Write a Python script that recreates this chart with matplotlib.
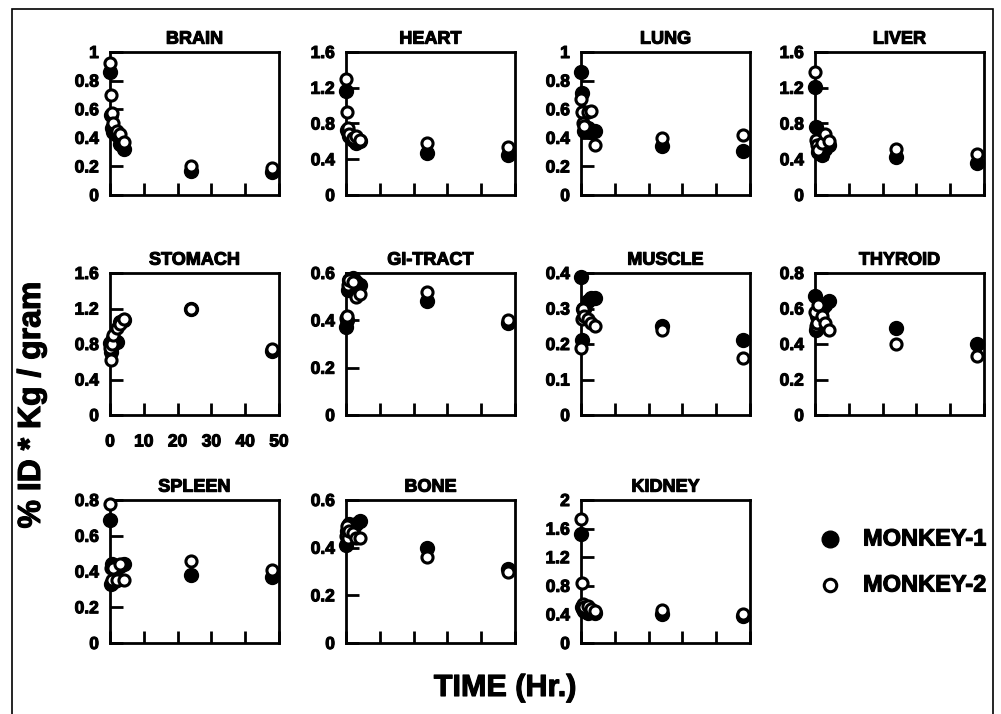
import matplotlib
matplotlib.use("Agg")

import matplotlib.pyplot as plt
import matplotlib.patheffects as pe
import numpy as np
from matplotlib.patches import Rectangle
from matplotlib.ticker import FuncFormatter

plt.rcParams['font.family'] = ['Liberation Sans', 'DejaVu Sans']
plt.rcParams['font.weight'] = 'bold'

# Tiempos de muestreo (h)
tiempo = [0.1, 0.25, 0.5, 1, 2, 3, 4, 24, 48]

organos = ["BRAIN", "HEART", "LUNG", "LIVER",
           "STOMACH", "GI-TRACT", "MUSCLE", "THYROID",
           "SPLEEN", "BONE", "KIDNEY"]

mono1 = {
    "BRAIN":    [0.86, 0.56, 0.47, 0.44, 0.42, 0.36, 0.32, 0.17, 0.16],
    "HEART":    [1.16, 0.73, 0.70, 0.66, 0.62, 0.58, 0.60, 0.47, 0.45],
    "LUNG":     [0.86, 0.71, 0.58, 0.45, 0.47, 0.44, 0.45, 0.34, 0.31],
    "LIVER":    [1.21, 0.76, 0.60, 0.48, 0.45, 0.52, 0.56, 0.43, 0.36],
    "STOMACH":  [0.81, 0.71, 0.78, 0.87, 0.82, 1.05, 1.07, 1.19, 0.72],
    "GI-TRACT": [0.37, 0.40, 0.53, 0.57, 0.58, 0.56, 0.55, 0.48, 0.39],
    "MUSCLE":   [0.39, 0.21, 0.30, 0.30, 0.32, 0.33, 0.33, 0.25, 0.21],
    "THYROID":  [0.67, 0.48, 0.56, 0.54, 0.60, 0.62, 0.64, 0.49, 0.40],
    "SPLEEN":   [0.69, 0.33, 0.44, 0.34, 0.35, 0.43, 0.44, 0.38, 0.37],
    "BONE":     [0.41, 0.47, 0.49, 0.50, 0.48, 0.50, 0.51, 0.40, 0.31],
    "KIDNEY":   [1.53, 0.50, 0.48, 0.45, 0.42, 0.44, 0.42, 0.40, 0.38],
}

mono2 = {
    "BRAIN":    [0.92, 0.70, 0.57, 0.50, 0.45, 0.43, 0.37, 0.20, 0.19],
    "HEART":    [1.30, 0.93, 0.75, 0.68, 0.64, 0.66, 0.62, 0.58, 0.54],
    "LUNG":     [0.67, 0.58, 0.50, 0.48, 0.58, 0.59, 0.35, 0.40, 0.42],
    "LIVER":    [1.38, 0.62, 0.56, 0.50, 0.58, 0.68, 0.60, 0.51, 0.46],
    "STOMACH":  [0.75, 0.62, 0.80, 0.90, 0.98, 1.02, 1.08, 1.19, 0.74],
    "GI-TRACT": [0.41, 0.42, 0.55, 0.57, 0.56, 0.50, 0.51, 0.52, 0.40],
    "MUSCLE":   [0.19, 0.27, 0.30, 0.28, 0.27, 0.26, 0.25, 0.24, 0.16],
    "THYROID":  [0.58, 0.50, 0.52, 0.62, 0.56, 0.52, 0.48, 0.40, 0.33],
    "SPLEEN":   [0.78, 0.42, 0.35, 0.42, 0.35, 0.44, 0.35, 0.46, 0.41],
    "BONE":     [0.45, 0.49, 0.44, 0.47, 0.46, 0.44, 0.44, 0.36, 0.30],
    "KIDNEY":   [1.74, 0.84, 0.55, 0.50, 0.52, 0.48, 0.45, 0.46, 0.40],
}

# limite y paso del eje y
ejes_y = {
    "BRAIN": (1, 0.2), "HEART": (1.6, 0.4), "LUNG": (1, 0.2), "LIVER": (1.6, 0.4),
    "STOMACH": (1.6, 0.4), "GI-TRACT": (0.6, 0.2), "MUSCLE": (0.4, 0.1),
    "THYROID": (0.8, 0.2), "SPLEEN": (0.8, 0.2), "BONE": (0.6, 0.2),
    "KIDNEY": (2, 0.4),
}

W, H = 1001, 714
fig = plt.figure(figsize=(W / 100, H / 100), dpi=100)
grueso = [pe.withStroke(linewidth=0.8, foreground="black")]

# marco
fig.patches.append(Rectangle((12 / W, -0.05), 981 / W, 1.05 - 9 / H,
                             transform=fig.transFigure, fill=False,
                             edgecolor="black", linewidth=1.2))

cols_px = [110, 346, 581, 815]
rows_px = [(52, 195), (273, 415), (500, 643)]
ancho = 169

for i, org in enumerate(organos):
    f, c = divmod(i, 4)
    top, bot = rows_px[f]
    ax = fig.add_axes([cols_px[c] / W, 1 - bot / H, ancho / W, (bot - top) / H])
    ax.plot(tiempo, mono1[org], "o", color="black", markersize=10,
            linestyle="none", clip_on=False, zorder=3)
    ax.plot(tiempo, mono2[org], "o", markerfacecolor="white",
            markeredgecolor="black", markeredgewidth=2.2, markersize=8,
            linestyle="none", clip_on=False, zorder=4)
    ymax, paso = ejes_y[org]
    ax.set_ylim(0, ymax)
    ax.set_yticks(np.arange(0, ymax + paso / 2, paso))
    ax.yaxis.set_major_formatter(FuncFormatter(lambda v, p: "%g" % round(v, 2)))
    ax.set_xlim(0, 50)
    ax.set_xticks(np.arange(0, 51, 10))
    ax.tick_params(direction="in", length=9, width=2, labelsize=12.5, pad=8)
    ax.tick_params(axis="x", pad=14)
    if org != "STOMACH":
        ax.tick_params(axis="x", labelbottom=False)
    for lbl in ax.get_xticklabels() + ax.get_yticklabels():
        lbl.set_fontweight("bold")
        lbl.set_path_effects(grueso)
    for s in ax.spines.values():
        s.set_linewidth(2)
    t = ax.set_title(org, fontsize=13, fontweight="bold", pad=6)
    t.set_path_effects(grueso)

# leyenda
fig.lines.append(plt.Line2D([830 / W], [1 - 539 / H], marker="o", color="black",
                            markersize=12, linestyle="none",
                            transform=fig.transFigure))
fig.lines.append(plt.Line2D([830 / W], [1 - 585 / H], marker="o",
                            markerfacecolor="white", markeredgecolor="black",
                            markeredgewidth=2.2, markersize=9, linestyle="none",
                            transform=fig.transFigure))
for yy, txt in [(539, "MONKEY-1"), (585, "MONKEY-2")]:
    fig.text(863 / W, 1 - yy / H, txt, fontsize=17, fontweight="bold",
             va="center", ha="left", path_effects=grueso)

fig.text(32 / W, 1 - 405 / H, "% ID * Kg / gram", rotation=90, fontsize=23,
         fontweight="bold", va="center", ha="center", path_effects=grueso)
fig.text(505 / W, 1 - 688 / H, "TIME (Hr.)", fontsize=22, fontweight="bold",
         va="center", ha="center", path_effects=grueso)

fig.savefig("out.png", dpi=100)
